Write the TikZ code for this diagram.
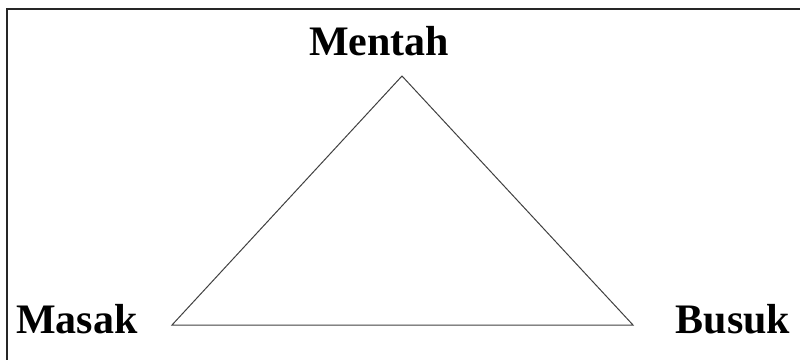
\documentclass[tikz,border=0pt]{standalone}
\usepackage{fontspec}
\setmainfont{Liberation Serif}
\usetikzlibrary{positioning}
\begin{document}
\begin{tikzpicture}[x=1pt, y=-1pt,
    stage/.style={font=\fontsize{42}{46}\selectfont\bfseries, anchor=base, inner sep=0pt},
    edge/.style={draw=black!75, line width=1pt}]
    \useasboundingbox (0,0) rectangle (800,359);
    % frame (cut off at right and bottom)
    \draw[black!85, line width=2pt] (7,370) -- (7,8.5) -- (810,8.5);
    % corners of the triangle
    \coordinate (top) at (402,76);
    \coordinate (left) at (172,325);
    \coordinate (right) at (633,325);
    \node[stage] (mentah) at (379,55) {Mentah};
    \node[stage] (masak) at (77,333) {Masak};
    \node[stage] (busuk) at (733,333) {Busuk};
    \draw[edge] (top) -- (right) -- (left) -- cycle;
\end{tikzpicture}
\end{document}
